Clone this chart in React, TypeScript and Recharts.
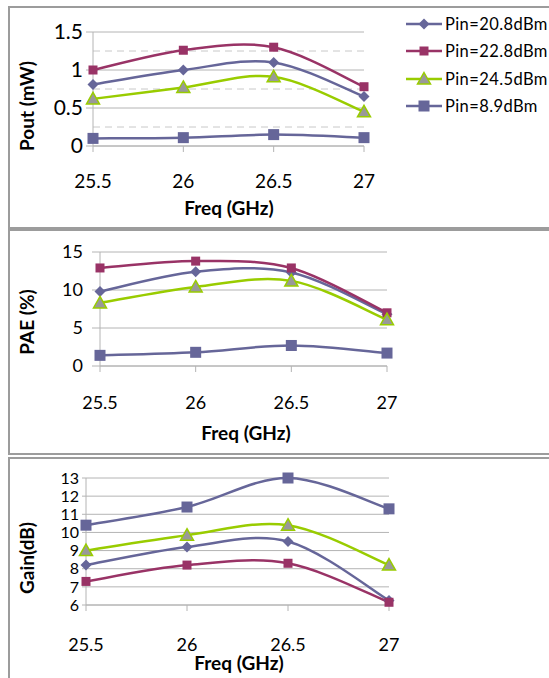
import React from "react";
import { LineChart, Line, CartesianGrid, XAxis, YAxis, ReferenceLine } from "recharts";

// frequency points (GHz)
const freqs = [25.5, 26, 26.5, 27];
const freqTicks = [25.5, 26, 26.5, 27];

// Pout (mW)
const pout208 = [0.81, 1.0, 1.1, 0.65];
const pout228 = [1.0, 1.26, 1.3, 0.78];
const pout245 = [0.62, 0.77, 0.91, 0.45];
const pout89 = [0.1, 0.11, 0.15, 0.11];

// PAE (%)
const pae208 = [9.8, 12.4, 12.3, 6.8];
const pae228 = [12.9, 13.8, 12.9, 7.0];
const pae245 = [8.3, 10.4, 11.2, 6.1];
const pae89 = [1.4, 1.8, 2.7, 1.7];

// Gain (dB)
const gain208 = [8.2, 9.2, 9.5, 6.25];
const gain228 = [7.3, 8.2, 8.3, 6.15];
const gain245 = [9.0, 9.85, 10.4, 8.2];
const gain89 = [10.4, 11.4, 13.0, 11.3];

const seriesNames = ["Pin=20.8dBm", "Pin=22.8dBm", "Pin=24.5dBm", "Pin=8.9dBm"];

const poutTicks = [0, 0.5, 1, 1.5];
const poutMinorTicks = [0.25, 0.75, 1.25];
const paeTicks = [0, 5, 10, 15];
const gainTicks = [6, 7, 8, 9, 10, 11, 12, 13];

const buildRows = (a: number[], b: number[], c: number[], d: number[]) =>
  freqs.map((f, i) => ({ freq: f, p208: a[i], p228: b[i], p245: c[i], p89: d[i] }));

const poutData = buildRows(pout208, pout228, pout245, pout89);
const paeData = buildRows(pae208, pae228, pae245, pae89);
const gainData = buildRows(gain208, gain228, gain245, gain89);

const series = [
  { key: "p208", name: seriesNames[0], color: "#666699", marker: "diamond" },
  { key: "p228", name: seriesNames[1], color: "#993366", marker: "square" },
  { key: "p245", name: seriesNames[2], color: "#99cc00", marker: "triangle" },
  { key: "p89", name: seriesNames[3], color: "#666699", marker: "bigsquare" },
];

const FONT = "Lato, 'Noto Sans', sans-serif";
const GRID = "#b4b4b4";

// excel-like smoothed line (catmull-rom as bezier)
const excelCurve = (context: any) => {
  let pts: number[][] = [];
  return {
    areaStart() {},
    areaEnd() {},
    lineStart() {
      pts = [];
    },
    lineEnd() {
      if (!pts.length) return;
      context.moveTo(pts[0][0], pts[0][1]);
      for (let i = 0; i < pts.length - 1; i++) {
        const p0 = pts[i - 1] || pts[i];
        const p1 = pts[i];
        const p2 = pts[i + 1];
        const p3 = pts[i + 2] || p2;
        context.bezierCurveTo(
          p1[0] + (p2[0] - p0[0]) / 6,
          p1[1] + (p2[1] - p0[1]) / 6,
          p2[0] - (p3[0] - p1[0]) / 6,
          p2[1] - (p3[1] - p1[1]) / 6,
          p2[0],
          p2[1]
        );
      }
    },
    point(x: number, y: number) {
      pts.push([+x, +y]);
    },
  };
};

const Marker = ({ cx, cy, kind, color }: any) => {
  if (cx == null || cy == null) return null;
  if (kind === "diamond") {
    const r = 5.5;
    return <polygon points={`${cx},${cy - r} ${cx + r},${cy} ${cx},${cy + r} ${cx - r},${cy}`} fill={color} />;
  }
  if (kind === "square") {
    return <rect x={cx - 4.5} y={cy - 4.5} width={9} height={9} fill={color} />;
  }
  if (kind === "bigsquare") {
    return <rect x={cx - 5.5} y={cy - 5.5} width={11} height={11} fill={color} />;
  }
  return (
    <polygon
      points={`${cx},${cy - 6.5} ${cx + 6.5},${cy + 5} ${cx - 6.5},${cy + 5}`}
      fill="#999999"
      stroke="#99cc00"
      strokeWidth={1.5}
    />
  );
};

interface PanelProps {
  data: any[];
  top: number;
  height: number;
  margin: { top: number; right: number; bottom: number; left: number };
  domain: number[];
  ticks: number[];
  yFont: number;
  xFont: number;
  yTickSize: number;
  yTickMargin: number;
  xTickMargin: number;
  minor?: number[];
}

const Panel: React.FC<PanelProps> = (p) => {
  return (
    <div style={{ position: "absolute", left: 0, top: p.top }}>
      <LineChart width={549} height={p.height} data={p.data} margin={p.margin}>
        <CartesianGrid vertical={false} stroke={GRID} />
        {(p.minor || []).map((v) => (
          <ReferenceLine key={v} y={v} stroke="#c8c8c8" strokeDasharray="7 5" />
        ))}
        <XAxis
          dataKey="freq"
          type="number"
          domain={[25.5, 27]}
          ticks={freqTicks}
          interval={0}
          height={30}
          tickSize={6}
          tickMargin={p.xTickMargin}
          axisLine={{ stroke: GRID }}
          tickLine={{ stroke: GRID }}
          tick={{ fontSize: p.xFont, fill: "#000", fontFamily: FONT }}
        />
        <YAxis
          domain={p.domain}
          ticks={p.ticks}
          interval={0}
          width={60}
          tickSize={p.yTickSize}
          tickMargin={p.yTickMargin}
          axisLine={{ stroke: GRID }}
          tickLine={{ stroke: GRID }}
          tick={{ fontSize: p.yFont, fill: "#000", fontFamily: FONT }}
        />
        {series.map((s) => (
          <Line
            key={s.key}
            dataKey={s.key}
            name={s.name}
            type={excelCurve as any}
            stroke={s.color}
            strokeWidth={2.5}
            isAnimationActive={false}
            dot={(d: any) => (
              <Marker key={`${s.key}-${d.index}`} cx={d.cx} cy={d.cy} kind={s.marker} color={s.color} />
            )}
            activeDot={false}
          />
        ))}
      </LineChart>
    </div>
  );
};

const boxStyle = (top: number, height: number): React.CSSProperties => ({
  position: "absolute",
  left: 8,
  top,
  width: 580,
  height,
  border: "2px solid #9c9c9c",
  boxSizing: "border-box",
});

const legendRows = [24, 51, 79, 106];

const App: React.FC = () => {
  return (
    <div
      style={{
        position: "absolute",
        left: 0,
        top: 0,
        width: 549,
        height: 678,
        overflow: "hidden",
        background: "#fff",
        fontFamily: FONT,
      }}
    >
      <div style={boxStyle(6, 223)} />
      <div style={boxStyle(229, 226)} />
      <div style={boxStyle(457, 260)} />

      <Panel
        data={poutData}
        top={8}
        height={220}
        margin={{ top: 24, right: 185, bottom: 52, left: 33 }}
        domain={[0, 1.5]}
        ticks={poutTicks}
        minor={poutMinorTicks}
        yFont={21}
        xFont={19}
        yTickSize={7}
        yTickMargin={3}
        xTickMargin={23}
      />
      <Panel
        data={paeData}
        top={232}
        height={220}
        margin={{ top: 20, right: 162, bottom: 56, left: 40 }}
        domain={[0, 15]}
        ticks={paeTicks}
        yFont={18}
        xFont={18}
        yTickSize={8}
        yTickMargin={9}
        xTickMargin={24}
      />
      <Panel
        data={gainData}
        top={460}
        height={210}
        margin={{ top: 18, right: 160, bottom: 35, left: 26 }}
        domain={[6, 13]}
        ticks={gainTicks}
        yFont={16}
        xFont={18}
        yTickSize={4}
        yTickMargin={3}
        xTickMargin={27}
      />

      <svg
        width={549}
        height={678}
        style={{ position: "absolute", left: 0, top: 0, pointerEvents: "none" }}
        fontFamily={FONT}
      >
        <text x={229} y={215} textAnchor="middle" fontWeight="bold" fontSize={19}>
          Freq (GHz)
        </text>
        <text x={246} y={440} textAnchor="middle" fontWeight="bold" fontSize={19}>
          Freq (GHz)
        </text>
        <text x={239} y={670} textAnchor="middle" fontWeight="bold" fontSize={19}>
          Freq (GHz)
        </text>
        <text transform="translate(34,106) rotate(-90)" textAnchor="middle" fontWeight="bold" fontSize={19}>
          Pout (mW)
        </text>
        <text transform="translate(34,322) rotate(-90)" textAnchor="middle" fontWeight="bold" fontSize={19}>
          PAE (%)
        </text>
        <text transform="translate(34,558) rotate(-90)" textAnchor="middle" fontWeight="bold" fontSize={19}>
          Gain(dB)
        </text>

        {series.map((s, i) => {
          const y = legendRows[i];
          return (
            <g key={s.key}>
              <line x1={406} x2={442} y1={y} y2={y} stroke={s.color} strokeWidth={2.5} />
              <Marker cx={424} cy={y} kind={s.marker} color={s.color} />
              <text x={445} y={y + 6} fontSize={16.5} letterSpacing={0.4} fill="#000">
                {s.name}
              </text>
            </g>
          );
        })}
      </svg>
    </div>
  );
};

export default App;
